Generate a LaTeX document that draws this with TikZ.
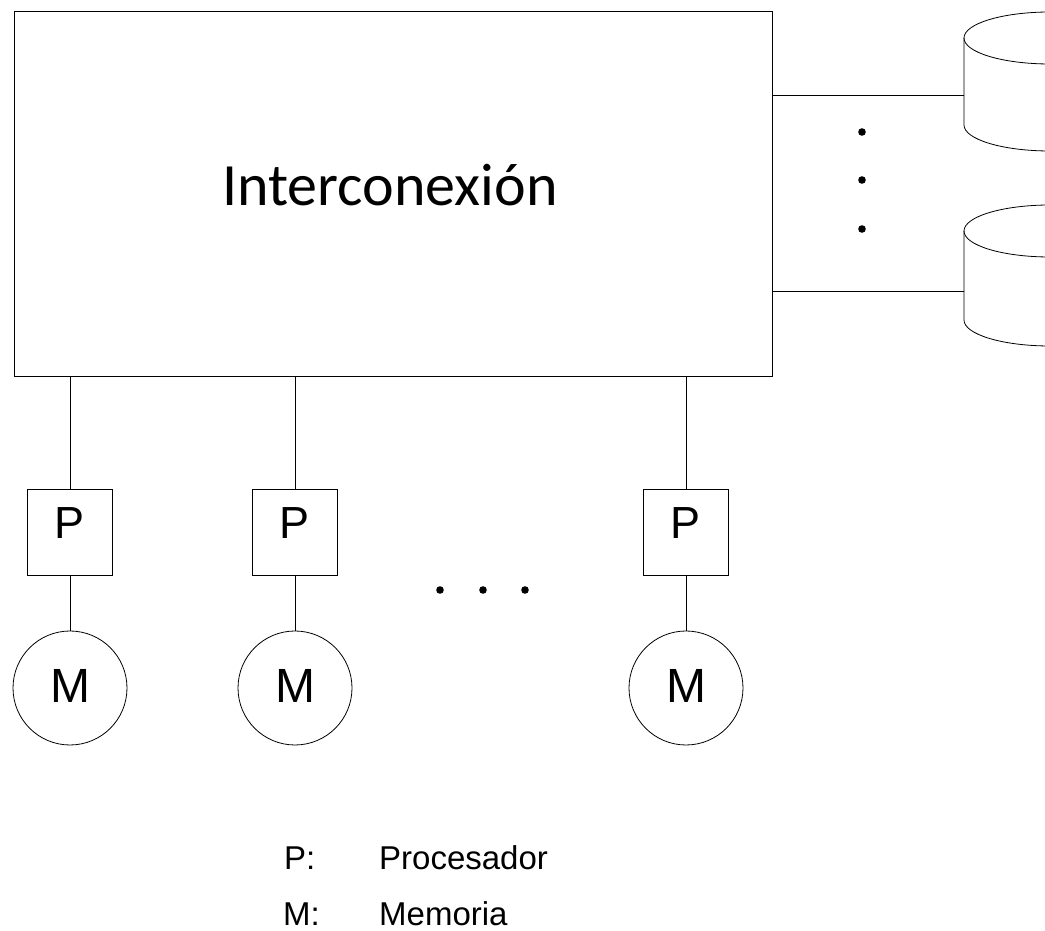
\documentclass[tikz,border=0pt]{standalone}
\usepackage{fontspec}
\setmainfont{Liberation Sans}
\newfontfamily\titlefont{Carlito}
\usepackage{tikz}
\usetikzlibrary{positioning, calc}
\tikzstyle{wire} = [line width=0.9pt]

\begin{document}
\begin{tikzpicture}[x=1pt, y=1pt,
    bigbox/.style={draw, line width=1pt, rectangle, minimum width=758pt, minimum height=365pt, inner sep=0pt},
    procbox/.style={draw, line width=0.9pt, rectangle, minimum width=85pt, minimum height=86pt, inner sep=0pt, text depth=18pt, font=\fontsize{45}{45}\selectfont},
    membox/.style={draw, line width=0.8pt, circle, minimum size=114pt, inner sep=0pt, text depth=5pt, font=\fontsize{48}{48}\selectfont},
    key/.style={anchor=base west, inner sep=0pt, font=\fontsize{33}{33}\selectfont}
]
\useasboundingbox (0,0) rectangle (1045,930);

% interconnection network
\node[bigbox] (inter) at (393,735.5) {};
\node[font=\titlefont\fontsize{60}{60}\selectfont] (title) at (390,745) {Interconexión};

% processors and memories
\node[procbox] (p1) at (70,398) {P};
\node[procbox] (p2) at (295,398) {P};
\node[procbox] (p3) at (686,398) {P};
\node[membox] (m1) at (70,242) {M};
\node[membox] (m2) at (295,242) {M};
\node[membox] (m3) at (686,242) {M};

\foreach \i in {1,2,3} {
    \draw[wire] (p\i.north |- inter.south) -- (p\i.north);
    \draw[wire] (p\i.south) -- (m\i.north);
}

% dots between the processors
\foreach \x in {440,483,525}
    \fill (\x,340) circle (3.8);

% disks, cut off at the right edge
\begin{scope}
\clip (0,0) rectangle (1045,930);
\foreach \yt/\yb [count=\k] in {892/805, 699/610} {
    \draw[line width=0.8pt] (1050,\yt) ellipse (86 and 26);
    \draw[line width=0.8pt] (964,\yt) -- (964,\yb) arc (180:360:86 and 26);
}
\end{scope}
\coordinate (disk1) at (964,835);
\coordinate (disk2) at (964,639);
\draw[wire] (inter.east |- disk1) -- (disk1);
\draw[wire] (inter.east |- disk2) -- (disk2);

% dots between the disks
\foreach \y in {798,750,701}
    \fill (862,\y) circle (3.8);

% legend
\node[key] (pkey) at (284,61) {P:};
\node[key] (pdesc) at (379,61) {Procesador};
\node[key] (mkey) at (283,5) {M:};
\node[key] (mdesc) at (379,5) {Memoria};
\end{tikzpicture}
\end{document}
